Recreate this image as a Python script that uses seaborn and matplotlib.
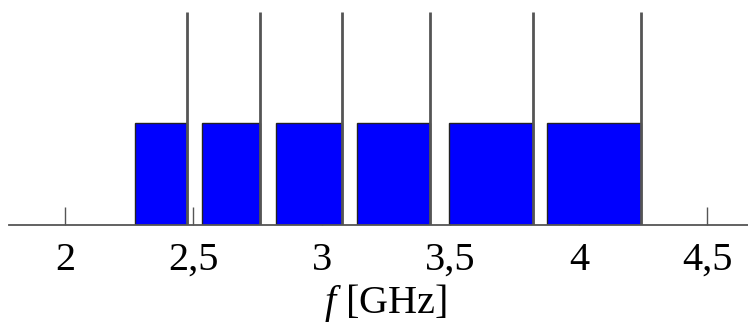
import matplotlib
matplotlib.use("Agg")
import matplotlib.pyplot as plt
import seaborn as sns
import pandas as pd

# Band edges in GHz
band_low = [2.274, 2.534, 2.822, 3.136, 3.495, 3.875]
band_high = [2.473, 2.758, 3.077, 3.421, 3.820, 4.240]
band_level = [1, 1, 1, 1, 1, 1]
tick_values = [2, 2.5, 3, 3.5, 4, 4.5]
tick_labels = ["2", "2,5", "3", "3,5", "4", "4,5"]

df = pd.DataFrame({"low": band_low, "high": band_high, "level": band_level})
df["width"] = df["high"] - df["low"]

sns.set_theme(style="white")
plt.rcParams["font.family"] = ["Liberation Serif", "DejaVu Serif"]
plt.rcParams["mathtext.fontset"] = "custom"
plt.rcParams["mathtext.it"] = "Liberation Serif:italic"
plt.rcParams["mathtext.rm"] = "Liberation Serif"
plt.rcParams["text.color"] = "black"
plt.rcParams["xtick.color"] = "black"
plt.rcParams["axes.labelcolor"] = "black"

fig = plt.figure(figsize=(7.48, 3.24), dpi=100)
ax = fig.add_axes([9 / 748, 99 / 324, 739 / 748, 213 / 324])

YTOP = 2.085
ax.bar(df["low"], df["level"], width=df["width"], align="edge",
       color="#0000ff", edgecolor="#222222", linewidth=1.0, zorder=2)
ax.vlines(df["high"], 0, YTOP, color="#555555", linewidth=2.0, zorder=3)

ax.set_xlim(1.782, 4.658)
ax.set_ylim(0, YTOP)
ax.set_yticks([])
ax.set_xticks(tick_values)
ax.set_xticklabels(tick_labels, fontsize=29, color="black")
ax.tick_params(axis="x", direction="in", length=13, width=1.0,
               color="#555555", labelcolor="black", pad=12, bottom=True)
for s in ["top", "right", "left"]:
    ax.spines[s].set_visible(False)
ax.spines["bottom"].set_color("#555555")
ax.spines["bottom"].set_linewidth(1.3)
ax.spines["bottom"].set_zorder(4)
ax.set_xlabel(r"$f$ [GHz]", fontsize=29, color="black")
ax.xaxis.label.set_visible(False)
fig.text(386 / 748, 11 / 324, r"$f$ [GHz]", fontsize=29, color="black",
         ha="center", va="baseline")

fig.savefig("out.png", dpi=100)
